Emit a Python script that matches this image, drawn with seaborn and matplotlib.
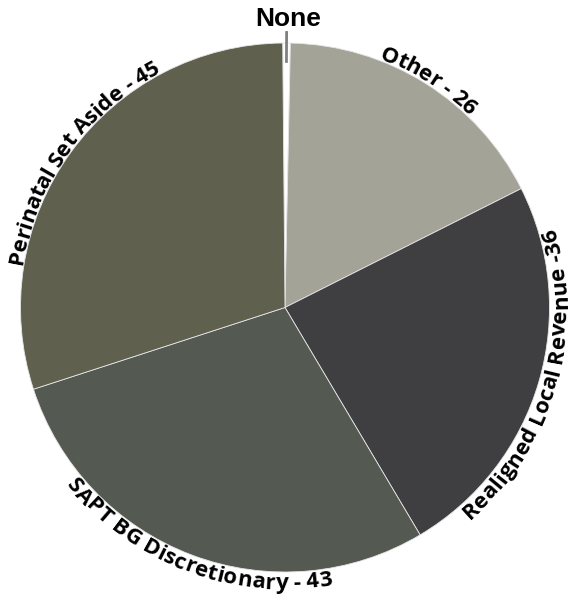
import numpy as np
import matplotlib
matplotlib.use('Agg')
import matplotlib.pyplot as plt
import seaborn as sns

sns.set_theme(style='white')
plt.rcParams['font.family'] = ['Open Sans', 'DejaVu Sans']

categories = ['None', 'Other', 'Realigned Local Revenue', 'SAPT BG Discretionary', 'Perinatal Set Aside']
values = [0.7, 26, 36, 43, 45]
labels = ['None', 'Other - 26', 'Realigned Local Revenue -36',
          'SAPT BG Discretionary - 43', 'Perinatal Set Aside - 45']
colors = ['#ffffff', '#a4a397', '#3f3f41', '#545a51', '#60604f']

W, H = 570, 607
fig = plt.figure(figsize=(W / 100, H / 100), dpi=100)
R_PX = 264.5
cx, cy = 285, H - 307.5
ax = fig.add_axes([(cx - R_PX) / W, (cy - R_PX) / H, 2 * R_PX / W, 2 * R_PX / H])

wedges, _ = ax.pie(values, colors=colors, startangle=90.5, counterclock=False,
                   radius=1, wedgeprops=dict(edgecolor='#e6e6e6', linewidth=0.6))
ax.set_xlim(-1, 1)
ax.set_ylim(-1, 1)
ax.axis('off')

renderer = fig.canvas.get_renderer()
FS = 16


def text_width(s, fs):
    t = fig.text(0, 0, s + '|', fontsize=fs, fontweight='bold')
    w = t.get_window_extent(renderer).width
    t.set_text('|')
    w0 = t.get_window_extent(renderer).width
    t.remove()
    return w - w0


def curved_label(s, mid, fs, gap_px, upper):
    total = text_width(s, fs)
    cap = fs * 100 / 72 * 0.71
    r_mid = R_PX + gap_px + cap / 2
    r_base = (R_PX + gap_px) if upper else (R_PX + gap_px + cap)
    for i, ch in enumerate(s):
        if ch == ' ':
            continue
        c = (text_width(s[:i], fs) + text_width(s[:i + 1], fs)) / 2
        if upper:
            th = np.radians(mid) + (total / 2 - c) / r_mid
            rot = np.degrees(th) - 90
        else:
            th = np.radians(mid) - (total / 2 - c) / r_mid
            rot = np.degrees(th) + 90
        r = r_base / R_PX
        ax.text(r * np.cos(th), r * np.sin(th), ch, fontsize=fs, fontweight='bold',
                rotation=rot, rotation_mode='anchor', ha='center', va='baseline',
                color='black')


for w, lab in zip(wedges[1:], labels[1:]):
    mid = (w.theta1 + w.theta2) / 2
    upper = np.sin(np.radians(mid)) > 0
    curved_label(lab, mid, FS, 1.5, upper)

# None label with leader line
w0 = wedges[0]
mid0 = np.radians((w0.theta1 + w0.theta2) / 2)
ax.plot([0.925 * np.cos(mid0), 1.045 * np.cos(mid0)],
        [0.925 * np.sin(mid0), 1.045 * np.sin(mid0)],
        color='#808080', lw=2, clip_on=False, solid_capstyle='butt')
fig.text(288 / W, 1 - 26 / H, labels[0], fontsize=19, fontweight='bold', color='black',
         family=['Liberation Sans', 'DejaVu Sans'], ha='center', va='baseline')

fig.savefig('out.png', dpi=100, facecolor='white')
